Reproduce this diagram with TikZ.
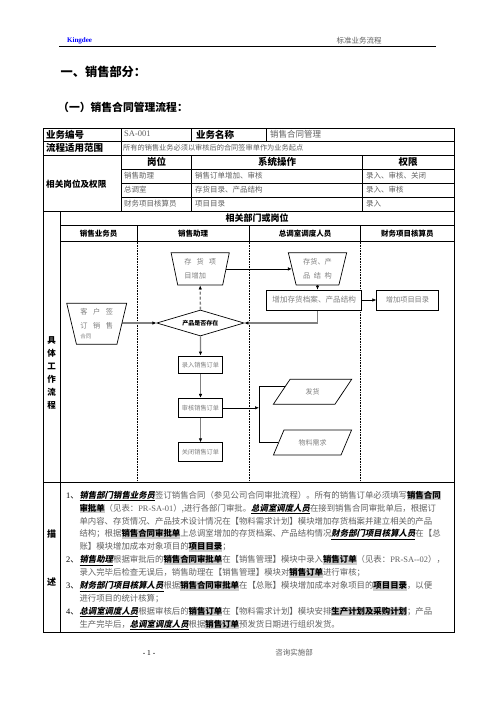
\documentclass[tikz,border=0pt]{standalone}
\usepackage{fontspec}
\setmainfont{Noto Sans CJK SC}
\newfontfamily\lat{Liberation Serif}
\newfontfamily\cjkbi[FakeSlant=0.2]{Noto Sans CJK SC}
\usetikzlibrary{shapes.geometric,arrows.meta,calc,backgrounds}
\XeTeXlinebreaklocale "zh"
\XeTeXlinebreakskip=0pt plus 2pt minus 0.4pt
\definecolor{tgray}{gray}{0.38}
\definecolor{lgray}{gray}{0.5}
\definecolor{hlgray}{gray}{0.8}
\definecolor{cgray}{gray}{0.5}
\newcommand\hlt[1]{{\setlength{\fboxsep}{0pt}\colorbox{hlgray}{\rule[-2pt]{0pt}{9.5pt}\bfseries\color{black}#1}}}
\newcommand\bui[1]{\textcolor{black}{\underline{\cjkbi\bfseries #1}}}
\newcommand\jl[1]{\makebox[370.7pt][s]{#1}}
\begin{document}
\begin{tikzpicture}[x=1pt,y=-1pt,
  hd/.style={inner sep=0, font=\bfseries\fontsize{9.5}{11}\selectfont},
  hds/.style={inner sep=0, font=\bfseries\fontsize{8}{10}\selectfont},
  val/.style={anchor=west, inner sep=0, text=tgray, font=\fontsize{7.5}{9}\selectfont},
  dl/.style={anchor=base west, inner sep=0, text=tgray, font=\fontsize{8.4}{10}\selectfont},
  trap/.style={draw, fill=white, trapezium, shape border rotate=180, trapezium stretches=true, inner sep=0pt, line width=0.7pt, text=lgray, align=left, font=\fontsize{7.2}{13.5}\selectfont},
  fbox/.style={draw, fill=white, rectangle, inner sep=0pt, line width=0.7pt, text=lgray},
  para/.style={draw, fill=white, trapezium, trapezium left angle=51.3, trapezium right angle=128.7, trapezium stretches=true, inner sep=0pt, minimum width=78.4pt, minimum height=25pt, line width=0.7pt, text=lgray, font=\fontsize{7}{9}\selectfont},
  garrow/.style={draw=cgray, line width=1.3pt, -{Latex[length=4pt,width=3.5pt,color=black]}},
  barrow/.style={draw=black, line width=0.6pt, -{Latex[length=4pt,width=3.5pt]}},
  grid/.style={line width=0.6pt},
  dgrid/.style={line width=0.6pt, dash pattern=on 0.8pt off 0.8pt}
]
\useasboundingbox (0,0) rectangle (496,702);

% page header
\node[anchor=west, inner sep=0, font=\lat\bfseries\fontsize{7}{8}\selectfont, text=blue] (kd) at (67,41) {Kingdee};
\node[anchor=west, inner sep=0, font=\fontsize{7.5}{9}\selectfont, text=tgray] (std) at (336.5,41) {标准业务流程};
\draw[line width=1pt] (59,46) -- (436,46);

% titles
\node[anchor=west, inner sep=0, font=\bfseries\fontsize{12.2}{14}\selectfont] (t1) at (60.5,71.7) {一、销售部分：};
\node[anchor=west, inner sep=0, font=\bfseries\fontsize{10.8}{13}\selectfont] (t2) at (58,107) {（一）销售合同管理流程：};

% ===== top table texts =====
\node[hd, anchor=west] (h1) at (46,134.5) {业务编号};
\node[anchor=west, inner sep=0, text=tgray, font=\lat\fontsize{8.5}{10}\selectfont] (v1) at (124,133.5) {SA-001};
\node[hd, anchor=west] (h2) at (196,134.5) {业务名称};
\node[val, font=\fontsize{8.5}{10}\selectfont] (v2) at (270,134.5) {销售合同管理};
\node[hd, anchor=west] (h3) at (46,148) {流程适用范围};
\node[val, font=\fontsize{7.2}{9}\selectfont] (v3) at (123,148) {所有的销售业务必须以审核后的合同签审单作为业务起点};
\node[hd] (h4) at (156.5,162) {岗位};
\node[hd] (h5) at (277,162) {系统操作};
\node[hd] (h6) at (408,162) {权限};
\node[hd, anchor=west, font=\bfseries\fontsize{8.6}{10}\selectfont] (h7) at (46,184) {相关岗位及权限};
\node[val] (r1a) at (124,176) {销售助理};
\node[val] (r1b) at (195,176) {销售订单增加、审核};
\node[val] (r1c) at (366,176) {录入、审核、关闭};
\node[val] (r2a) at (124,190) {总调室};
\node[val] (r2b) at (195,190) {存货目录、产品结构};
\node[val] (r2c) at (366,190) {录入、审核};
\node[val] (r3a) at (124,204) {财务项目核算员};
\node[val] (r3b) at (195,204) {项目目录};
\node[val] (r3c) at (366,204) {录入};

% ===== flow section headers =====
\node[hd, font=\bfseries\fontsize{9}{11}\selectfont] (fh) at (257,218) {相关部门或岗位};
\node[hds, font=\bfseries\fontsize{7.5}{9}\selectfont] (c1) at (98.5,233.3) {销售业务员};
\node[hds, font=\bfseries\fontsize{7.5}{9}\selectfont] (c2) at (193,233.3) {销售助理};
\node[hds, font=\bfseries\fontsize{7.5}{9}\selectfont] (c3) at (305,233.3) {总调室调度人员};
\node[hds, font=\bfseries\fontsize{7.5}{9}\selectfont] (c4) at (407.4,233.3) {财务项目核算员};
\node[inner sep=0, align=center, font=\bfseries\fontsize{8.5}{13}\selectfont] (side1) at (51.5,372.5) {具\\体\\工\\作\\流\\程};
\node[hd, font=\bfseries\fontsize{9}{11}\selectfont] (side2) at (51.5,534) {描};
\node[hd, font=\bfseries\fontsize{9}{11}\selectfont] (side3) at (51.5,582) {述};

% ===== flowchart nodes =====
\node[trap, minimum width=58.3pt, minimum height=32.3pt, trapezium angle=77] (T1) at (200.2,268.9) {存\hspace{5pt}货\hspace{5pt}项\\目增加};
\node[trap, minimum width=60pt, minimum height=41pt, trapezium angle=75.6] (T2) at (96.7,323.8) {客\hspace{5.5pt}户\hspace{5.5pt}签\\订\hspace{5.5pt}销\hspace{5.5pt}售\\[-3pt]{\fontsize{5.5}{7}\selectfont 合同}};
\node[trap, minimum width=58.4pt, minimum height=32.3pt, trapezium angle=75.4] (T3) at (317.5,268.9) {存货、产\\品\hspace{3.5pt}结\hspace{3.5pt}构};
\node[diamond, draw, fill=white, inner sep=0pt, aspect=3.36, minimum width=87.3pt, minimum height=26pt, line width=0.7pt, font=\bfseries\fontsize{6}{7}\selectfont] (dia) at (200.4,323) {产品是否存在};
\node[fbox, minimum width=95pt, minimum height=20pt, font=\fontsize{7.6}{9}\selectfont] (B1) at (314.2,300) {增加存货档案、产品结构};
\node[fbox, minimum width=61.6pt, minimum height=20pt, font=\fontsize{7.2}{9}\selectfont] (B2) at (407.5,300) {增加项目目录};
\node[fbox, minimum width=44.4pt, minimum height=17.5pt, font=\fontsize{6.2}{8}\selectfont] (B3) at (200.5,364.7) {录入销售订单};
\node[fbox, minimum width=44.4pt, minimum height=19pt, font=\fontsize{6.2}{8}\selectfont] (B4) at (200.5,407.8) {审核销售订单};
\node[fbox, minimum width=44.4pt, minimum height=19pt, font=\fontsize{6.2}{8}\selectfont] (B5) at (200.5,452.2) {关闭销售订单};
\node[para] (P1) at (312.5,391.8) {发货};
\node[para] (P2) at (312.5,442.5) {物料需求};
\coordinate (br) at (259,407.8);
\coordinate (p1a) at ($(P1.top left corner)!0.27!(P1.bottom left corner)$);

% ===== description =====
\node[dl, text=black] (n1) at (66,498.2) {{\lat 1}、};
\node[dl] (d1) at (79.3,498.2) {\jl{\bui{销售部门销售业务员}签订销售合同（参见公司合同审批流程）。所有的销售订单必须填写\hlt{销售合同}}};
\node[dl] (d2) at (79.3,511.1) {\jl{\hlt{审批单}（见表：{\lat PR-SA-01}）,进行各部门审批。\bui{总调室调度人员}在接到销售合同审批单后，根据订}};
\node[dl] (d3) at (79.3,524) {\jl{单内容、存货情况、产品技术设计情况在【物料需求计划】模块增加存货档案并建立相关的产品}};
\node[dl] (d4) at (79.3,536.9) {\jl{结构；根据\hlt{销售合同审批单}上总调室增加的存货档案、产品结构情况\bui{财务部门项目核算人员}在【总}};
\node[dl] (d5) at (79.3,549.8) {账】模块增加成本对象项目的\hlt{项目目录}；};
\node[dl, text=black] (n2) at (66,562.7) {{\lat 2}、};
\node[dl] (d6) at (79.3,562.7) {\jl{\bui{销售助理}根据审批后的\hlt{销售合同审批单}在【销售管理】模块中录入\hlt{销售订单}（见表：{\lat PR-SA-{}-02}），}};
\node[dl] (d7) at (79.3,575.6) {录入完毕后检查无误后，销售助理在【销售管理】模块对\hlt{销售订单}进行审核；};
\node[dl, text=black] (n3) at (66,588.5) {{\lat 3}、};
\node[dl] (d8) at (79.3,588.5) {\jl{\bui{财务部门项目核算人员}根据\hlt{销售合同审批单}在【总账】模块增加成本对象项目的\hlt{项目目录}，以便}};
\node[dl] (d9) at (79.3,601.4) {进行项目的统计核算；};
\node[dl, text=black] (n4) at (66,614.3) {{\lat 4}、};
\node[dl] (d10) at (79.3,614.3) {\jl{\bui{总调室调度人员}根据审核后的\hlt{销售订单}在【物料需求计划】模块安排\hlt{生产计划及采购计划}；产品}};
\node[dl] (d11) at (79.3,627.2) {生产完毕后，\bui{总调室调度人员}根据\hlt{销售订单}预发货日期进行组织发货。};

% footer
\node[inner sep=0, font=\lat\fontsize{7.5}{9}\selectfont] (pg) at (149,653) {- 1 -};
\node[inner sep=0, text=tgray, font=\fontsize{7.5}{9}\selectfont] (dept) at (294,653) {咨询实施部};

\begin{pgfonlayer}{background}
\fill[white] (0,0) rectangle (496,702);
% table grid
\draw[grid] (43,141) -- (454,141);
\draw[grid] (43,155) -- (454,155);
\draw[grid] (121,169) -- (454,169);
\draw[grid] (121,183) -- (454,183);
\draw[grid] (121,197) -- (454,197);
\draw[grid] (43,211) -- (454,211);
\draw[grid] (60,225) -- (454,225);
\draw[grid] (60,241.5) -- (454,241.5);
\draw[grid] (43,482.5) -- (454,482.5);
\draw[grid] (121,128) -- (121,211);
\draw[grid] (191.5,128) -- (191.5,141);
\draw[grid] (266,128) -- (266,141);
\draw[grid] (191.5,155) -- (191.5,211);
\draw[grid] (362,155) -- (362,211);
\draw[grid] (60,211) -- (60,632);
\draw[grid] (137,225) -- (137,241.5);
\draw[grid] (249,225) -- (249,241.5);
\draw[grid] (360.7,225) -- (360.7,241.5);
\draw[dgrid] (137,241.5) -- (137,482.5);
\draw[dgrid] (249,241.5) -- (249,482.5);
\draw[dgrid] (360.7,241.5) -- (360.7,482.5);
\draw[line width=1pt] (43,128) rectangle (454,632);
% connectors
\draw[garrow] (T2.east |- dia.west) -- (dia.west);
\draw[garrow, dash pattern=on 3pt off 2pt] (dia.north) -- (T1.south);
\draw[barrow] (T1.east) -- (T3.west);
\draw[barrow] (T3.south) -- (B1.north -| T3.south);
\draw[barrow] (B1.east) -- (B2.west);
\draw[garrow] ([xshift=3.5pt]B1.south) |- (dia.east);
\draw[garrow] (dia.south) -- (B3.north);
\draw[garrow] (B3.south) -- (B4.north);
\draw[garrow] (B4.south) -- (B5.north);
\draw[barrow] (B4.east) -- (br);
\draw[line width=0.7pt] (p1a) -- (p1a -| br) -- (P2.left side -| br) -- (P2.left side);
\end{pgfonlayer}
\end{tikzpicture}
\end{document}
